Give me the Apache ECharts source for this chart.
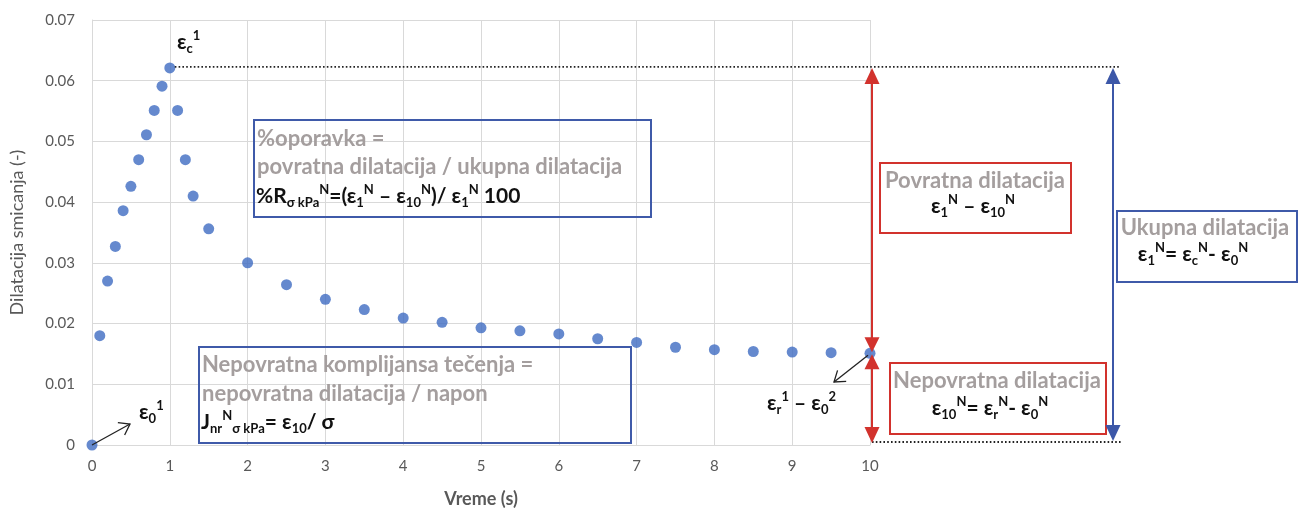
<!DOCTYPE html>
<html>
<head>
<meta charset="utf-8">
<script src="https://cdn.jsdelivr.net/npm/echarts@6/dist/echarts.min.js"></script>
<style>
  html, body { margin: 0; background: #fff; }
  #chart { width: 1301px; height: 513px; }
</style>
</head>
<body>
<div id="chart"></div>
<script>
// vreme (s) i dilatacija smicanja (-)
const timeS = [0, 0.1, 0.2, 0.3, 0.4, 0.5, 0.6, 0.7, 0.8, 0.9, 1.0, 1.1, 1.2, 1.3, 1.5,
  2.0, 2.5, 3.0, 3.5, 4.0, 4.5, 5.0, 5.5, 6.0, 6.5, 7.0, 7.5, 8.0, 8.5, 9.0, 9.5, 10];
const strain = [0, 0.018, 0.027, 0.0327, 0.0386, 0.0426, 0.047, 0.0511, 0.0551, 0.0591, 0.0621,
  0.0551, 0.047, 0.041, 0.0356, 0.030, 0.0264, 0.024, 0.0223, 0.0209, 0.0202, 0.0193, 0.0188,
  0.0183, 0.0175, 0.0169, 0.0161, 0.0157, 0.0154, 0.0153, 0.0152, 0.0151];
const xTicks = [0, 10, 1];     // min, max, korak
const yTicks = [0, 0.07, 0.01];

const FONT = 'Lato';
const GREY = '#a49e9e';
const AXIS = '#595959';
const RED = '#d2322d';
const BLUE = '#3c57a8';
const BOX_BLUE = '#3f5aa9';

const chart = echarts.init(document.getElementById('chart'));

const option = {
  animation: false,
  grid: { left: 92, right: 431, top: 20, bottom: 65 },
  xAxis: {
    type: 'value',
    min: xTicks[0], max: xTicks[1], interval: xTicks[2],
    name: 'Vreme (s)',
    nameLocation: 'middle',
    nameGap: 45,
    nameTextStyle: { fontFamily: FONT, fontSize: 18, fontWeight: 'bold', color: AXIS },
    axisLine: { lineStyle: { color: '#d9d9d9' } },
    axisTick: { show: false },
    axisLabel: { fontFamily: FONT, fontSize: 15, color: AXIS, margin: 14 },
    splitLine: { lineStyle: { color: '#d9d9d9' } }
  },
  yAxis: {
    type: 'value',
    min: yTicks[0], max: yTicks[1], interval: yTicks[2],
    name: 'Dilatacija smicanja (-)',
    nameLocation: 'middle',
    nameGap: 66,
    nameTextStyle: { fontFamily: FONT, fontSize: 18, color: AXIS },
    axisLine: { show: true, lineStyle: { color: '#d9d9d9' } },
    axisTick: { show: false },
    axisLabel: { fontFamily: FONT, fontSize: 15, color: AXIS, margin: 17 },
    splitLine: { lineStyle: { color: '#d9d9d9' } }
  },
  series: [{
    type: 'scatter',
    symbolSize: 11,
    itemStyle: { color: '#3f6cc2' },
    data: timeS.map((t, i) => [t, strain[i]]),
    z: 5
  }]
};
chart.setOption(option);

// pomocne funkcije za strelice
function head(tip, from, w, h, color, open) {
  const dx = tip[0] - from[0], dy = tip[1] - from[1];
  const len = Math.sqrt(dx * dx + dy * dy);
  const ux = dx / len, uy = dy / len;
  const bx = tip[0] - ux * h, by = tip[1] - uy * h;
  const p1 = [bx - uy * w / 2, by + ux * w / 2];
  const p2 = [bx + uy * w / 2, by - ux * w / 2];
  if (open) {
    return { type: 'polyline', shape: { points: [p1, tip, p2] },
      style: { stroke: color, lineWidth: 1.3, fill: null }, z: 20 };
  }
  return { type: 'polygon', shape: { points: [tip, p1, p2] }, style: { fill: color }, z: 20 };
}
function line(a, b, color, width, dash) {
  return { type: 'line', shape: { x1: a[0], y1: a[1], x2: b[0], y2: b[1] },
    style: { stroke: color, lineWidth: width, lineDash: dash || null }, z: 19 };
}
function box(x1, y1, x2, y2, color) {
  return { type: 'rect', shape: { x: x1, y: y1, width: x2 - x1, height: y2 - y1 },
    style: { stroke: color, lineWidth: 2, fill: null }, z: 18 };
}

const rich = {
  b: { fontFamily: FONT, fontSize: 21, fontWeight: 'bold', fill: '#111', lineHeight: 26 },
  sub: { fontFamily: FONT, fontSize: 13, fontWeight: 'bold', fill: '#111', verticalAlign: 'bottom', lineHeight: 26 },
  sup: { fontFamily: FONT, fontSize: 13, fontWeight: 'bold', fill: '#111', verticalAlign: 'top', lineHeight: 26 }
};
function txt(x, y, text, align, useRich) {
  const el = { type: 'text', x: x, y: y, z: 21,
    style: { text: text, align: align || 'left', verticalAlign: 'middle' } };
  if (useRich) {
    el.style.rich = rich;
  } else {
    el.style.fontFamily = FONT;
    el.style.fontSize = 22;
    el.style.fontWeight = 'bold';
    el.style.fill = GREY;
  }
  return el;
}

const peak = chart.convertToPixel({ gridIndex: 0 }, [timeS[10], strain[10]]);
const last = chart.convertToPixel({ gridIndex: 0 }, [timeS[timeS.length - 1], strain[strain.length - 1]]);
const origin = chart.convertToPixel({ gridIndex: 0 }, [0, 0]);

const redX = last[0] + 2;
const blueX = 1113;
const rightEnd = 1121;
const g = [];

// isprekidane linije
g.push(line([peak[0] + 5, peak[1] - 1], [rightEnd, peak[1] - 1], '#222', 1.8, [1.6, 2.2]));
g.push(line([redX, origin[1] - 3], [rightEnd, origin[1] - 3], '#222', 1.8, [1.6, 2.2]));

// crvene strelice
const mid = last[1];
g.push(line([redX, peak[1] + 10], [redX, mid - 10], RED, 2));
g.push(head([redX, peak[1]], [redX, peak[1] + 20], 15, 16, RED));
g.push(head([redX, mid - 1], [redX, mid - 20], 15, 15, RED));
g.push(line([redX, mid + 10], [redX, origin[1] - 12], RED, 2));
g.push(head([redX, mid + 1], [redX, mid + 20], 15, 15, RED));
g.push(head([redX, origin[1] - 2], [redX, origin[1] - 20], 15, 16, RED));

// plava strelica
g.push(line([blueX, peak[1] + 10], [blueX, origin[1] - 14], BLUE, 2));
g.push(head([blueX, peak[1]], [blueX, peak[1] + 20], 15, 16, BLUE));
g.push(head([blueX, origin[1] - 4], [blueX, origin[1] - 20], 15, 16, BLUE));

// crne strelice
g.push(line([origin[0], origin[1]], [130, 424], '#222', 1.3));
g.push(head([130, 424], [origin[0], origin[1]], 14, 10, '#222', true));
g.push(line([last[0] - 2, last[1] + 2], [834, 382], '#222', 1.3));
g.push(head([834, 382], [last[0] - 2, last[1] + 2], 14, 10, '#222', true));

// okviri
g.push(box(254, 120, 651, 217, BOX_BLUE));
g.push(box(199, 347, 631, 443, BOX_BLUE));
g.push(box(880, 163, 1071, 233, RED));
g.push(box(1117, 211, 1297, 282, BOX_BLUE));
g.push(box(890, 363, 1106, 434, RED));

// tekstovi
g.push(txt(257, 139, '%oporavka ='));
g.push(txt(257, 167, 'povratna dilatacija / ukupna dilatacija'));
g.push(txt(256, 196, '{b|%R}{sub|σ kPa}{sup|N}{b|=(ε}{sub|1}{sup|N}{b| – ε}{sub|10}{sup|N}{b|)/ ε}{sub|1}{sup|N}{b| 100}', 'left', true));

g.push(txt(202, 365, 'Nepovratna komplijansa tečenja ='));
g.push(txt(202, 394, 'nepovratna dilatacija / napon'));
g.push(txt(201, 422, '{b|J}{sub|nr}{sup|N}{sub|σ kPa}{b|= ε}{sub|10}{b|/ σ}', 'left', true));

g.push(txt(975, 181, 'Povratna dilatacija', 'center'));
g.push(txt(973, 206, '{b|ε}{sub|1}{sup|N}{b| – ε}{sub|10}{sup|N}', 'center', true));

g.push(txt(1205, 228, 'Ukupna dilatacija', 'center'));
g.push(txt(1193, 254, '{b|ε}{sub|1}{sup|N}{b|= ε}{sub|c}{sup|N}{b|- ε}{sub|0}{sup|N}', 'center', true));

g.push(txt(997, 381, 'Nepovratna dilatacija', 'center'));
g.push(txt(990, 408, '{b|ε}{sub|10}{sup|N}{b|= ε}{sub|r}{sup|N}{b|- ε}{sub|0}{sup|N}', 'center', true));

g.push(txt(177, 42, '{b|ε}{sub|c}{sup|1}', 'left', true));
g.push(txt(139, 412, '{b|ε}{sub|0}{sup|1}', 'left', true));
g.push(txt(767, 403, '{b|ε}{sub|r}{sup|1}{b| – ε}{sub|0}{sup|2}', 'left', true));

chart.setOption({ graphic: { elements: g } });
</script>
</body>
</html>
